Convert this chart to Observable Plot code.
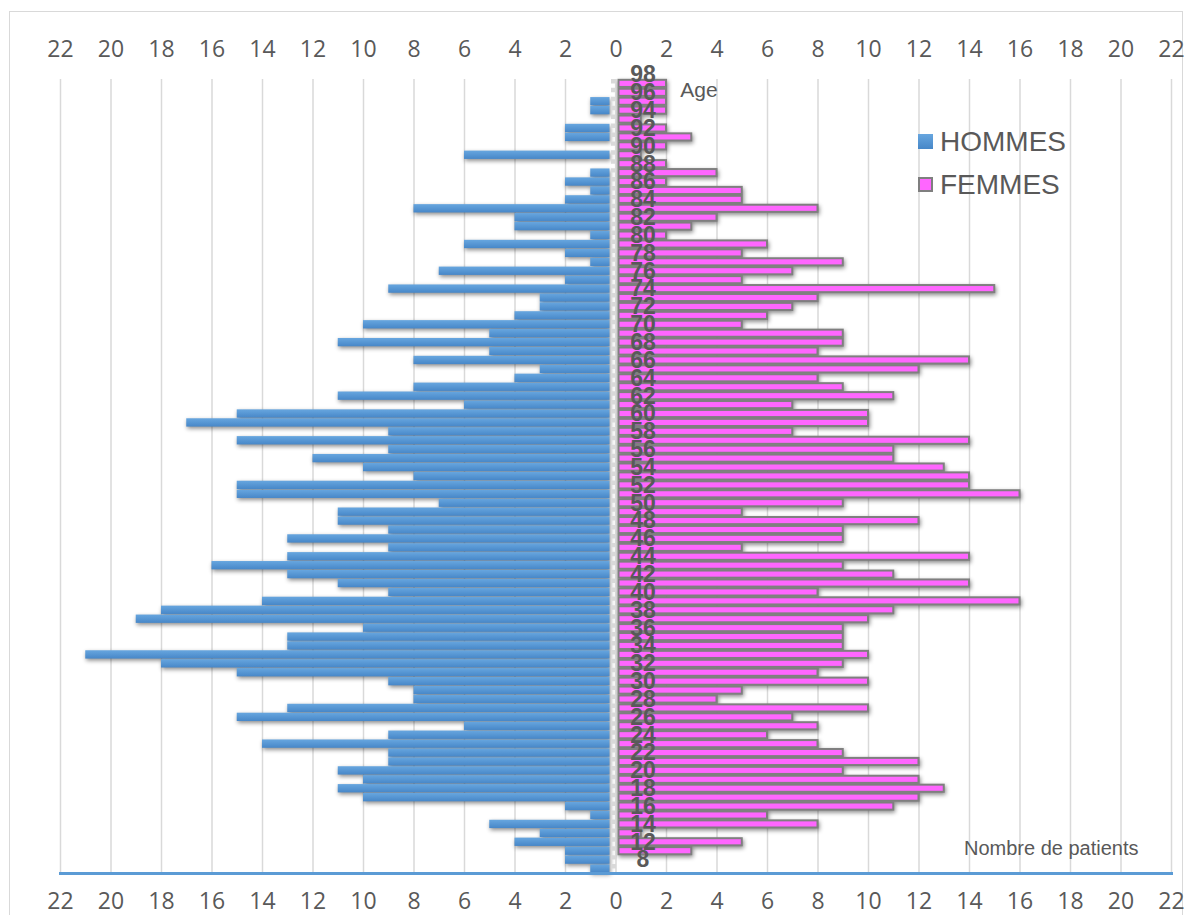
<!DOCTYPE html>
<html>
<head>
<meta charset="utf-8">
<script src="https://cdn.jsdelivr.net/npm/d3@7"></script>
<script src="https://cdn.jsdelivr.net/npm/@observablehq/plot@0.6"></script>
<style>
  html, body { margin: 0; padding: 0; background: #fff; }
  #chart { position: relative; width: 1192px; height: 915px; overflow: hidden; }
  #border { position: absolute; left: 9px; top: 11px; width: 1174px; height: 930px; border: 1.5px solid #d9d9d9; box-sizing: border-box; }
  #chart svg { position: absolute; left: 0; top: 0; }
  .legend { position: absolute; left: 918px; top: 120px; font: 28px "Liberation Sans", Arial, sans-serif; color: #595959; }
  .legend .item { display: flex; align-items: center; height: 43px; }
  .legend .sw { width: 15px; height: 15px; margin-right: 7px; box-sizing: border-box; }
</style>
</head>
<body>
<div id="chart"><div id="border"></div></div>
<script>
// Age categories, oldest at the top
const ages = [98, 97, 96, 95, 94, 93, 92, 91, 90, 89, 88, 87, 86, 85, 84, 83, 82, 81, 80, 79,
  78, 77, 76, 75, 74, 73, 72, 71, 70, 69, 68, 67, 66, 65, 64, 63, 62, 61, 60, 59,
  58, 57, 56, 55, 54, 53, 52, 51, 50, 49, 48, 47, 46, 45, 44, 43, 42, 41, 40, 39,
  38, 37, 36, 35, 34, 33, 32, 31, 30, 29, 28, 27, 26, 25, 24, 23, 22, 21, 20, 19,
  18, 17, 16, 15, 14, 13, 12, 10, 8, 6];

// Number of male patients per age
const hommes = [0, 0, 0, 1, 1, 0, 2, 2, 0, 6, 0, 1, 2, 1, 2, 8, 4, 4, 1, 6,
  2, 1, 7, 2, 9, 3, 3, 4, 10, 5, 11, 5, 8, 3, 4, 8, 11, 6, 15, 17,
  9, 15, 9, 12, 10, 8, 15, 15, 7, 11, 11, 9, 13, 9, 13, 16, 13, 11, 9, 14,
  18, 19, 10, 13, 13, 21, 18, 15, 9, 8, 8, 13, 15, 6, 9, 14, 9, 9, 11, 10,
  11, 10, 2, 1, 5, 3, 4, 2, 2, 1];

// Number of female patients per age
const femmes = [0, 2, 2, 2, 2, 1, 2, 3, 2, 1, 2, 4, 2, 5, 5, 8, 4, 3, 2, 6,
  5, 9, 7, 5, 15, 8, 7, 6, 5, 9, 9, 8, 14, 12, 8, 9, 11, 7, 10, 10,
  7, 14, 11, 11, 13, 14, 14, 16, 9, 5, 12, 9, 9, 5, 14, 9, 11, 14, 8, 16,
  11, 10, 9, 9, 9, 10, 9, 8, 10, 5, 4, 10, 7, 8, 6, 8, 9, 12, 9, 12,
  13, 12, 11, 6, 8, 1, 5, 3, 0, 0];

// Tick values of the patient-count axis (shown as absolute values)
const xTicks = d3.range(-22, 23, 2);

const rows = ages.map((age, i) => ({age, hommes: hommes[i], femmes: femmes[i]}));
const ageLabels = ages.filter((_, i) => i % 2 === 0);
const firstRow = ages[1];
const lastRow = ages[ages.length - 1];

const W = 1192, H = 915;
const mT = 70, mB = 42;
const band = (H - mT - mB) / ages.length;

const grey = "#595959";
const tickFont = "'Liberation Sans Narrow', 'Arial Narrow', 'Open Sans', sans-serif";

const svg = Plot.plot({
  width: W,
  height: H,
  marginLeft: 60,
  marginRight: 21,
  marginTop: mT,
  marginBottom: mB,
  style: {background: "transparent", fontFamily: "'Liberation Sans', Arial, sans-serif", overflow: "visible"},
  x: {domain: [-22, 22]},
  y: {type: "band", domain: ages, padding: 0, axis: null},
  marks: [
    // vertical gridlines
    Plot.ruleX(xTicks, {x: d => d, y1: () => firstRow, y2: () => lastRow, stroke: "#d9d9d9", strokeWidth: 1.5}),
    // men to the left
    Plot.barX(rows.filter(d => d.hommes > 0), {
      x1: d => -d.hommes, x2: 0, y: "age",
      fill: "url(#menGrad)", insetTop: 0.3, insetBottom: 0.3, insetRight: 6
    }),
    // women to the right
    Plot.barX(rows.filter(d => d.femmes > 0), {
      x1: 0, x2: "femmes", y: "age",
      fill: "#ff66ff", stroke: "#7f7f7f", strokeWidth: 2, insetTop: 0.9, insetBottom: 0.9, insetLeft: 3
    }),
    // category axis line at zero
    Plot.ruleX([0], {x: d => d, y1: () => firstRow, y2: () => lastRow, dx: -2.5, stroke: "#d9d9d9", strokeWidth: 5,
      strokeDasharray: `${band / 2} ${band / 2}`}),
    // age labels, every other category
    Plot.text(ageLabels, {x: 0, y: d => d, text: d => String(d), dx: 27, fontSize: 23, fontWeight: "bold", fill: grey}),
    // axis titles
    Plot.text(["Age"], {x: 0, y: () => ages[2], dx: 83, dy: -3, fontSize: 21, fill: grey}),
    Plot.text(["Nombre de patients"], {frameAnchor: "bottom-right", textAnchor: "end", lineAnchor: "middle", dx: -33, dy: -25, fontSize: 20, fill: grey}),
    // patient-count axes, top and bottom
    Plot.axisX(xTicks, {anchor: "top", tickSize: 0, tickPadding: 14, tickFormat: d => Math.abs(d), fontSize: 23, fontFamily: tickFont, fill: grey, label: null}),
    Plot.axisX(xTicks, {anchor: "bottom", tickSize: 0, tickPadding: 19, tickFormat: d => Math.abs(d), fontSize: 23, fontFamily: tickFont, fill: grey, label: null}),
    // horizontal axis line
    Plot.frame({anchor: "bottom", stroke: "#5b9bd5", strokeWidth: 3})
  ]
});

// gradient for the men's bars
const defs = d3.select(svg).insert("defs", ":first-child");
const grad = defs.append("linearGradient").attr("id", "menGrad").attr("x1", 0).attr("x2", 0).attr("y1", 0).attr("y2", 1);
grad.append("stop").attr("offset", "0%").attr("stop-color", "#67a6df");
grad.append("stop").attr("offset", "100%").attr("stop-color", "#4787c8");

// soft shadow under the bars
d3.select(svg).selectAll('g[aria-label="bar"]').style("filter", "drop-shadow(1px 2.5px 2px rgba(0,0,0,0.45))");

document.getElementById("chart").appendChild(svg);

// legend
const legend = d3.select("#chart").append("div").attr("class", "legend");
const items = [
  {name: "HOMMES", bg: "linear-gradient(#67a6df, #4787c8)", border: "none"},
  {name: "FEMMES", bg: "#ff66ff", border: "2px solid #7f7f7f"}
];
for (const it of items) {
  const row = legend.append("div").attr("class", "item");
  row.append("span").attr("class", "sw").style("background", it.bg).style("border", it.border);
  row.append("span").text(it.name);
}
</script>
</body>
</html>
